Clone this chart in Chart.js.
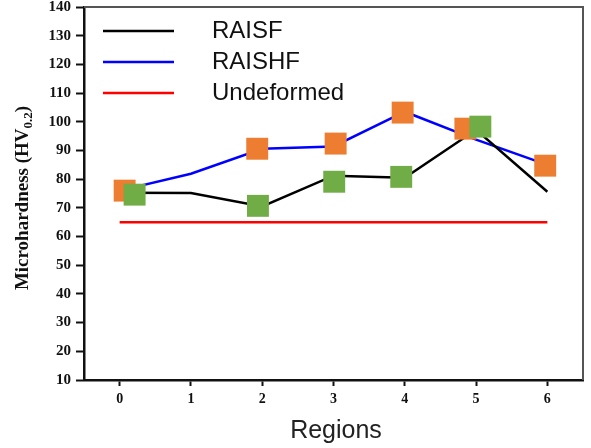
<!DOCTYPE html>
<html>
<head>
<meta charset="utf-8">
<title>Microhardness by region</title>
<script src="https://cdn.jsdelivr.net/npm/chart.js@4/dist/chart.umd.min.js"></script>
<style>
  body { margin: 0; background: #fff; }
  #chart { display: block; }
</style>
</head>
<body>
<canvas id="chart" width="591" height="448"></canvas>
<script>
// Data
const regions = [0, 1, 2, 3, 4, 5, 6];
const raisf = [75.3, 75.2, 70.5, 81.2, 80.5, 97.2, 75.6];
const raishf = [76, 81.9, 90.6, 91.4, 103.5, 93.8, 85];
const undeformed = [65, 65, 65, 65, 65, 65, 65];

// square markers sit slightly off the region positions
const orangeX = [0.07, 1.93, 3.03, 3.97, 4.85, 5.97];
const orangeY = [76.0, 90.6, 92.4, 103.2, 97.6, 84.7];
const greenX = [0.21, 1.94, 3.01, 3.95, 5.06];
const greenY = [74.6, 70.7, 79.1, 80.8, 98.3];

const yTicks = [10, 20, 30, 40, 50, 60, 70, 80, 90, 100, 110, 120, 130, 140];

const serif = 'Liberation Serif';
const sans = 'Liberation Sans';

function pts(xs, ys) {
    return xs.map((x, i) => ({ x: x, y: ys[i] }));
}

function lineSet(label, ys, color) {
    return {
        label: label,
        data: pts(regions, ys),
        showLine: true,
        borderColor: color,
        backgroundColor: color,
        borderWidth: 2.5,
        pointRadius: 0,
        tension: 0,
        order: 3,
        inLegend: true
    };
}

function markerSet(xs, ys, color, order) {
    return {
        label: '',
        data: pts(xs, ys),
        showLine: false,
        pointStyle: 'rect',
        pointRadius: 15.5,
        pointBackgroundColor: color,
        pointBorderWidth: 0,
        order: order
    };
}

// drop the extra room Chart.js keeps for edge labels
function noPad(s) {
    s.paddingTop = 0;
    s.paddingBottom = 0;
    s.paddingLeft = 0;
    s.paddingRight = 0;
}

// legend inside plot, frame top/right, axis titles
const decorations = {
    id: 'decorations',
    afterDraw(chart) {
        const ctx = chart.ctx;
        const area = chart.chartArea;
        ctx.save();

        // thin frame on top and right
        ctx.strokeStyle = '#555';
        ctx.lineWidth = 2;
        ctx.beginPath();
        ctx.moveTo(area.left, area.top);
        ctx.lineTo(area.right, area.top);
        ctx.lineTo(area.right, area.bottom);
        ctx.stroke();

        // legend
        let row = 0;
        chart.data.datasets.forEach(ds => {
            if (!ds.inLegend) return;
            const y = 31 + row * 31;
            ctx.strokeStyle = ds.borderColor;
            ctx.lineWidth = 2.5;
            ctx.beginPath();
            ctx.moveTo(103, y);
            ctx.lineTo(174, y);
            ctx.stroke();
            ctx.fillStyle = '#111';
            ctx.font = '24px "' + sans + '"';
            ctx.textBaseline = 'middle';
            ctx.textAlign = 'left';
            ctx.fillText(ds.label, 212, y);
            row++;
        });

        // x title
        ctx.fillStyle = '#222';
        ctx.font = '25px "' + sans + '"';
        ctx.textAlign = 'center';
        ctx.textBaseline = 'middle';
        ctx.fillText('Regions', 336, 431);

        // y title with subscript
        const mainFont = 'bold 19px "' + serif + '"';
        const subFont = 'bold 13px "' + serif + '"';
        const a = 'Microhardness (HV', b = '0.2', c = ')';
        ctx.font = mainFont;
        const wa = ctx.measureText(a).width, wc = ctx.measureText(c).width;
        ctx.font = subFont;
        const wb = ctx.measureText(b).width;
        const total = wa + wb + wc;
        ctx.translate(28, 198);
        ctx.rotate(-Math.PI / 2);
        ctx.textAlign = 'left';
        ctx.textBaseline = 'alphabetic';
        ctx.fillStyle = '#111';
        let x = -total / 2;
        ctx.font = mainFont;
        ctx.fillText(a, x, 0);
        x += wa;
        ctx.font = subFont;
        ctx.fillText(b, x, 4);
        x += wb;
        ctx.font = mainFont;
        ctx.fillText(c, x, 0);

        ctx.restore();
    }
};

new Chart(document.getElementById('chart'), {
    type: 'scatter',
    data: {
        datasets: [
            lineSet('RAISF', raisf, '#000000'),
            lineSet('RAISHF', raishf, '#0000ff'),
            Object.assign(lineSet('Undeformed', undeformed, '#ff0000'), { order: 4 }),
            markerSet(orangeX, orangeY, '#ed7d31', 2),
            markerSet(greenX, greenY, '#70ad47', 1)
        ]
    },
    options: {
        responsive: false,
        animation: false,
        layout: { autoPadding: false, padding: { top: 7, right: 8, left: 0, bottom: 0 } },
        plugins: {
            legend: { display: false },
            tooltip: { enabled: false }
        },
        scales: {
            x: {
                type: 'linear',
                min: -0.5,
                max: 6.5,
                afterBuildTicks: s => { s.ticks = regions.map(v => ({ value: v })); },
                afterFit: s => { s.height = 68; noPad(s); },
                ticks: {
                    font: { family: serif, size: 14, weight: 'bold' },
                    color: '#111',
                    padding: 5
                },
                grid: { drawOnChartArea: false, tickLength: 6, tickColor: '#111', tickWidth: 2 },
                border: { color: '#111', width: 2.5 }
            },
            y: {
                min: 10,
                max: 140,
                afterBuildTicks: s => { s.ticks = yTicks.map(v => ({ value: v })); },
                afterFit: s => { s.width = 84; noPad(s); },
                ticks: {
                    font: { family: serif, size: 15, weight: 'bold' },
                    color: '#111',
                    padding: 5
                },
                grid: { drawOnChartArea: false, tickLength: 8, tickColor: '#111', tickWidth: 2 },
                border: { color: '#111', width: 2.5 }
            }
        }
    },
    plugins: [decorations]
});
</script>
</body>
</html>
